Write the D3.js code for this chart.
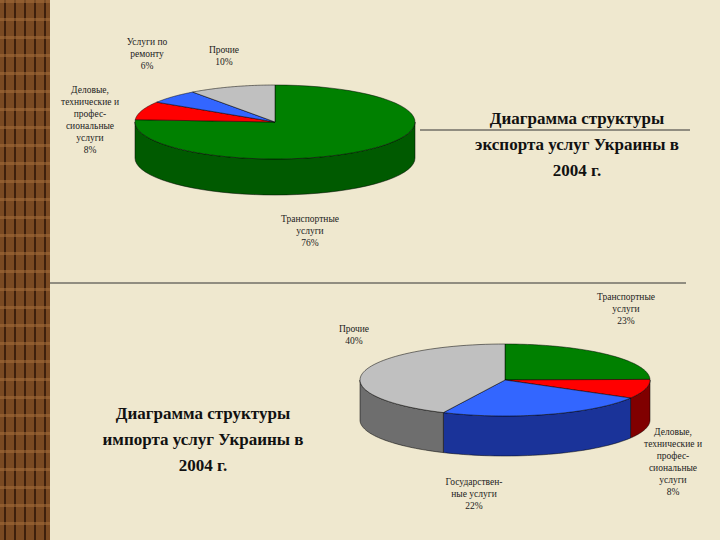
<!DOCTYPE html><html><head><meta charset="utf-8"><script src="https://cdn.jsdelivr.net/npm/d3@7"></script>
<style>body{margin:0}svg{display:block}</style></head><body><svg width="720" height="540"></svg>
<script>
const exportCats=["Транспортные услуги","Деловые, технические и профессиональные услуги","Услуги по ремонту","Прочие"];
const exportVals=[76,8,6,10];
const importCats=["Транспортные услуги","Деловые, технические и профессиональные услуги","Государственные услуги","Прочие"];
const importVals=[23,8,22,40];
const topColors=["#008000","#ff0000","#3366ff","#c0c0c0"];
const sideColors=["#005a00","#800000","#1a3399","#6e6e6e"];

const svg=d3.select("svg");
svg.append("rect").attr("width",720).attr("height",540).attr("fill","#efe8cf");
const wood=svg.append("g");
wood.append("rect").attr("width",50).attr("height",540).attr("fill","#7a4a22");
[4,14,24,34,44].forEach(x=>wood.append("rect").attr("x",x).attr("width",2).attr("height",540).attr("fill","#3e200c"));
d3.range(0,540,18).forEach(y=>wood.append("rect").attr("x",0).attr("y",y).attr("width",50).attr("height",3).attr("fill","#a06a38").attr("opacity",0.6));

function pie3d(vals,cx,cy,rx,ry,depth){
  const arcs=d3.pie().sort(null).value(d=>d)(vals);
  const g=svg.append("g");
  const pt=(a,dy=0)=>[cx+rx*Math.sin(a),cy-ry*Math.cos(a)+dy];
  arcs.forEach((a,i)=>{
    const s=Math.max(a.startAngle,Math.PI/2), e=Math.min(a.endAngle,3*Math.PI/2);
    if(e<=s) return;
    const n=40, top=d3.range(n+1).map(k=>pt(s+(e-s)*k/n)), bot=top.map(p=>[p[0],p[1]+depth]).reverse();
    g.append("path").attr("d",d3.line()(top.concat(bot))+"Z").attr("fill",sideColors[i]).attr("stroke","#000").attr("stroke-width",0.5);
  });
  arcs.forEach((a,i)=>{
    const n=60, pts=[[cx,cy]].concat(d3.range(n+1).map(k=>pt(a.startAngle+(a.endAngle-a.startAngle)*k/n)));
    g.append("path").attr("d",d3.line()(pts)+"Z").attr("fill",topColors[i]).attr("stroke","#000").attr("stroke-width",0.5);
  });
}
pie3d(exportVals,275,122,140,37,36);
pie3d(importVals,505,380,145,36,40);

function text(lines,x,y,size,lh,opts={}){
  const t=svg.append("text").attr("x",x).attr("y",y).attr("text-anchor","middle")
   .attr("font-family","Liberation Serif, Times New Roman, serif").attr("font-size",size)
   .attr("fill",opts.fill||"#222").attr("font-weight",opts.bold?"bold":"normal");
  lines.forEach((l,i)=>t.append("tspan").attr("x",x).attr("dy",i?lh:0).text(l));
}
svg.append("line").attr("x1",420).attr("x2",690).attr("y1",130).attr("y2",130).attr("stroke","#333");
svg.append("line").attr("x1",50).attr("x2",686).attr("y1",283).attr("y2",283).attr("stroke","#333");
text(["Диаграмма структуры","экспорта услуг Украины в","2004 г."],577,124,17,26,{bold:true,fill:"#111"});
text(["Диаграмма структуры","импорта услуг Украины в","2004 г."],203,419,17,26,{bold:true,fill:"#111"});
const fs=9.5, lh=12;
text(["Услуги по","ремонту",exportVals[2]+"%"],147,45,fs,lh);
text(["Прочие",exportVals[3]+"%"],224,53,fs,lh);
text(["Деловые,","технические и","профес-","сиональные","услуги",exportVals[1]+"%"],90,93,fs,lh);
text(["Транспортные","услуги",exportVals[0]+"%"],310,222,fs,lh);
text(["Транспортные","услуги",importVals[0]+"%"],626,300,fs,lh);
text(["Прочие",importVals[3]+"%"],354,332,fs,lh);
text(["Государствен-","ные услуги",importVals[2]+"%"],474,485,fs,lh);
text(["Деловые,","технические и","профес-","сиональные","услуги",importVals[1]+"%"],673,435,fs,lh);
</script></body></html>
